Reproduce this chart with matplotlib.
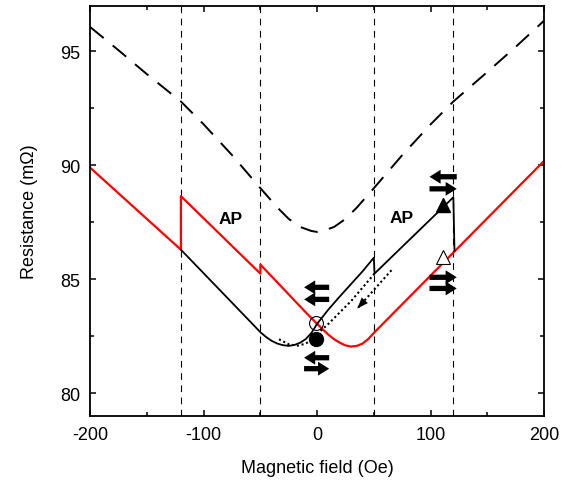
import matplotlib
matplotlib.use('Agg')
import matplotlib.pyplot as plt

plt.rcParams['font.family'] = ['Liberation Sans', 'DejaVu Sans']
plt.rcParams['axes.unicode_minus'] = False

# Kurva putus-putus (atas)
dash_h = [-200, -175, -150, -120, -100, -75, -50, -35, -25, -15, -5, 0, 5, 15, 25, 35, 50, 75, 100, 120, 150, 175, 200]
dash_r = [96.07, 95.05, 94.0, 92.8, 91.8, 90.45, 89.0, 88.15, 87.65, 87.3, 87.12, 87.08, 87.12, 87.3, 87.65, 88.15, 89.0, 90.45, 91.8, 92.8, 94.1, 95.2, 96.35]

# Kurva merah
red_h = [-200, -120, -120, -50, -50, -10, 0, 5, 10, 15, 20, 25, 30, 35, 40, 45, 50, 200]
red_r = [89.9, 86.3, 88.65, 85.25, 85.65, 83.55, 83.05, 82.8, 82.57, 82.37, 82.22, 82.1, 82.05, 82.08, 82.18, 82.38, 82.65, 90.2]

# Kurva hitam
black_h = [-120, -60, -50, -45, -40, -35, -30, -25, -20, -15, -10, -5, 0, 10, 20, 30, 40, 50, 50.5, 120, 121]
black_r = [86.3, 83.2, 82.68, 82.47, 82.3, 82.18, 82.11, 82.08, 82.12, 82.22, 82.38, 82.65, 83.05, 83.68, 84.25, 84.8, 85.35, 85.95, 85.25, 88.6, 86.25]

# Kurva titik-titik (minor loop)
dot_h = [50.5, 30, 10, 0, -5, -10, -17, -25, -34]
dot_r = [85.25, 84.05, 83.05, 82.6, 82.35, 82.18, 82.09, 82.15, 82.38]

# Garis vertikal
vlines_h = [-120, -50, 50, 120]

# Penanda
circ_h, circ_r = [-1], [83.07]
fcirc_h, fcirc_r = [-1], [82.4]
ftri_h, ftri_r = [111], [88.27]
otri_h, otri_r = [111], [85.97]

# Panah tebal: (ekor_h, kepala_h, r)
arrows = [(10.6, -11.5, 84.65), (10.6, -11.5, 84.12),
          (10.6, -11.5, 81.56), (-11.5, 10.6, 81.08),
          (123, 99, 89.5), (99, 123, 88.97),
          (99, 123, 85.09), (99, 123, 84.6)]

# Panah titik-titik
dot_arrow_tail = (65.5, 85.4)
dot_arrow_tip = (35.4, 83.72)

labels_ap = [(-76, 87.65), (74, 87.7)]

fig = plt.figure(figsize=(5.74, 4.85), dpi=100)
ax = fig.add_axes([0.157, 0.140, 0.791, 0.846])

for h in vlines_h:
    ax.axvline(h, color='k', lw=0.8, dashes=(6, 5))

ax.plot(dash_h, dash_r, color='k', lw=1.4, dashes=(9, 6))
ax.plot(red_h, red_r, color='#ff0000', lw=1.6)
ax.plot(black_h, black_r, color='k', lw=1.3)
ax.plot(dot_h, dot_r, color='k', lw=1.5, linestyle=(0, (1, 1.3)))

ax.plot([dot_arrow_tail[0], dot_arrow_tip[0]], [dot_arrow_tail[1], dot_arrow_tip[1]],
        color='k', lw=1.5, linestyle=(0, (1, 1.3)))
ax.annotate('', xy=dot_arrow_tip,
            xytext=(dot_arrow_tip[0] + 2.0, dot_arrow_tip[1] + 0.11),
            arrowprops=dict(arrowstyle='simple,head_length=0.8,head_width=0.6,tail_width=0.01',
                            color='k', lw=0, mutation_scale=10, shrinkA=0, shrinkB=0))

ax.plot(circ_h, circ_r, 'o', ms=10, mfc='none', mec='k', mew=0.8)
ax.plot(fcirc_h, fcirc_r, 'o', ms=10, color='k')
ax.plot(ftri_h, ftri_r, '^', ms=10, color='k')
ax.plot(otri_h, otri_r, '^', ms=10, mfc='white', mec='k', mew=0.8)

for t, hd, r in arrows:
    ax.annotate('', xy=(hd, r), xytext=(t, r),
                arrowprops=dict(arrowstyle='simple,head_length=0.8,head_width=1.0,tail_width=0.38',
                                color='k', lw=0, mutation_scale=10, shrinkA=0, shrinkB=0))

for h, r in labels_ap:
    ax.text(h, r, 'AP', fontsize=12.5, fontweight='bold', ha='center', va='center')

ax.set_xlim(-200, 200)
ax.set_ylim(79, 97)
ax.set_xticks([-200, -100, 0, 100, 200])
ax.set_xticks([-150, -50, 50, 150], minor=True)
ax.set_yticks([80, 85, 90, 95])
ax.set_yticks([82.5, 87.5, 92.5], minor=True)
ax.tick_params(which='both', direction='in', top=True, right=True, width=1.1, labelsize=13)
ax.tick_params(which='major', length=4.5, pad=7)
ax.tick_params(which='minor', length=3)
for s in ax.spines.values():
    s.set_linewidth(1.3)

ax.set_xlabel('Magnetic field (Oe)', fontsize=13, labelpad=12)
ax.set_ylabel('Resistance (m\u03a9)', fontsize=13, labelpad=16)

fig.savefig('out.png', dpi=100)
